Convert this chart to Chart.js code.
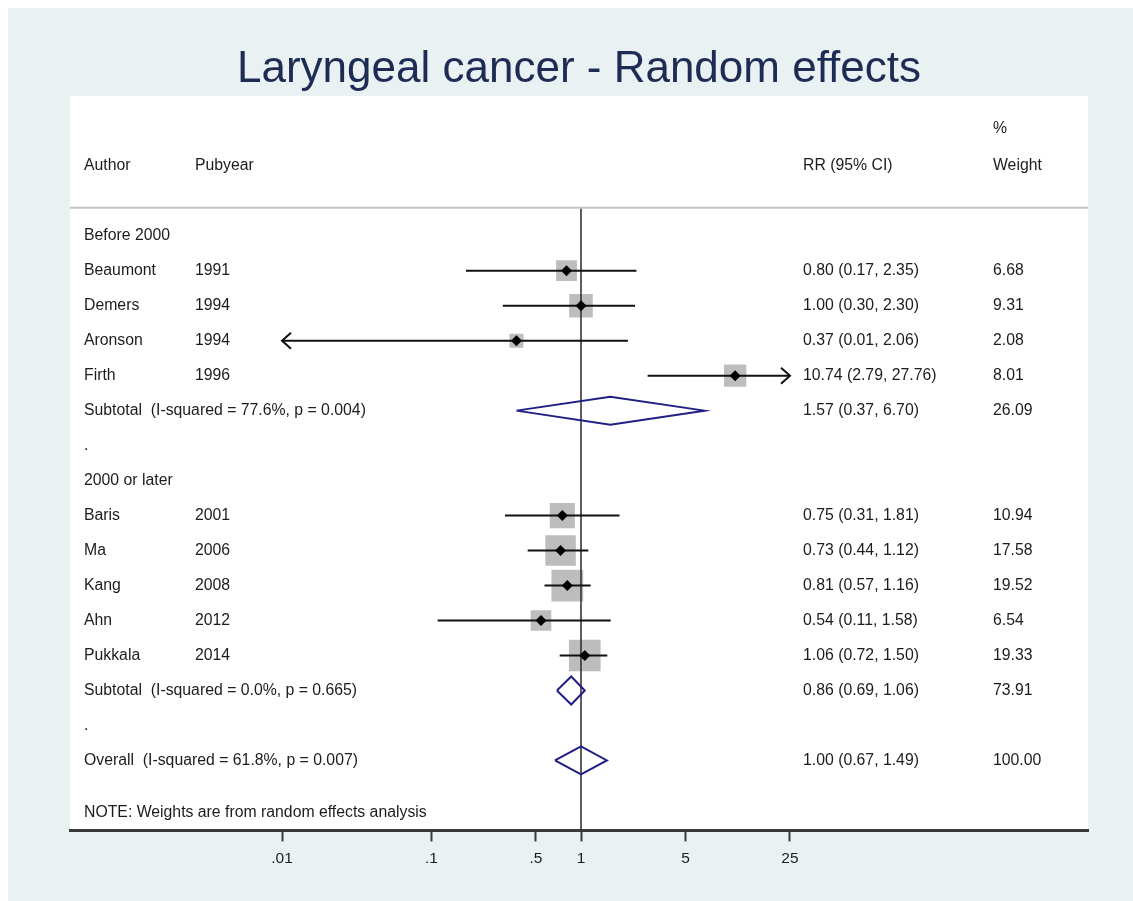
<!DOCTYPE html>
<html>
<head>
<meta charset="utf-8">
<title>Laryngeal cancer - Random effects</title>
<script src="https://cdn.jsdelivr.net/npm/chart.js@4.4.1/dist/chart.umd.min.js"></script>
<style>
  html, body { margin: 0; padding: 0; background: #fff; }
  canvas { display: block; }
</style>
</head>
<body>
<canvas id="grafica" width="1133" height="901"></canvas>
<script>
var chart;

// studies
var authors = ['Beaumont', 'Demers', 'Aronson', 'Firth', 'Baris', 'Ma', 'Kang', 'Ahn', 'Pukkala'];
var years = [1991, 1994, 1994, 1996, 2001, 2006, 2008, 2012, 2014];
var rr = [0.80, 1.00, 0.37, 10.74, 0.75, 0.73, 0.81, 0.54, 1.06];
var rrLo = [0.17, 0.30, 0.01, 2.79, 0.31, 0.44, 0.57, 0.11, 0.72];
var rrHi = [2.35, 2.30, 2.06, 27.76, 1.81, 1.12, 1.16, 1.58, 1.50];
var weights = [6.68, 9.31, 2.08, 8.01, 10.94, 17.58, 19.52, 6.54, 19.33];
var studyRows = [1, 2, 3, 4, 8, 9, 10, 11, 12];

// subgroups and overall
var groupNames = ['Before 2000', '2000 or later'];
var groupRows = [0, 7];
var pooledNames = ['Subtotal', 'Subtotal', 'Overall'];
var pooledIsq = [77.6, 0.0, 61.8];
var pooledP = [0.004, 0.665, 0.007];
var pooledRr = [1.57, 0.86, 1.00];
var pooledLo = [0.37, 0.69, 0.67];
var pooledHi = [6.70, 1.06, 1.49];
var pooledWeights = [26.09, 73.91, 100.00];
var pooledRows = [5, 13, 15];
var dotRows = [6, 14];

// x axis
var tickValues = [0.01, 0.1, 0.5, 1, 5, 25];
var tickLabels = ['.01', '.1', '.5', '1', '5', '25'];

var fontFamily = '"Liberation Sans", Arial, sans-serif';
var textFont = '15.8px ' + fontFamily;
var textColor = '#1c1c1c';
var xMin = tickValues[0];
var xMax = tickValues[tickValues.length - 1];

function ciText(a, b, c)
{
  return a.toFixed(2) + ' (' + b.toFixed(2) + ', ' + c.toFixed(2) + ')';
}

function boxRadius(w)
{
  // rect side grows with sqrt of the weight
  return (6.0 * Math.sqrt(w) + 5.3) / Math.SQRT2;
}

function armarDatasets()
{
  var sets = [];

  // estimate markers on top
  sets.push({
    type: 'scatter',
    data: rr.map(function(v, i) { return { x: v, y: studyRows[i] }; }),
    pointStyle: 'rectRot',
    pointRadius: 5.5,
    backgroundColor: '#000',
    borderWidth: 0,
    order: 0
  });

  // confidence intervals (clipped at the axis range)
  for (var i = 0; i < rr.length; i++)
  {
    sets.push({
      type: 'line',
      data: [
        { x: Math.max(rrLo[i], xMin), y: studyRows[i] },
        { x: Math.min(rrHi[i], xMax), y: studyRows[i] }
      ],
      borderColor: '#111',
      borderWidth: 2,
      pointRadius: 0,
      order: 1
    });
  }

  // pooled diamonds
  for (var j = 0; j < pooledRr.length; j++)
  {
    var r = pooledRows[j];
    sets.push({
      type: 'line',
      data: [
        { x: pooledLo[j], y: r },
        { x: pooledRr[j], y: r - 0.4 },
        { x: pooledHi[j], y: r },
        { x: pooledRr[j], y: r + 0.4 },
        { x: pooledLo[j], y: r }
      ],
      borderColor: '#1f1f85',
      borderWidth: 2,
      pointRadius: 0,
      fill: false,
      order: 1
    });
  }

  // null line and overall line
  sets.push({
    type: 'line',
    data: [{ x: 1, y: -0.8 }, { x: 1, y: 17 }],
    borderColor: '#2a2a2a',
    borderWidth: 1.5,
    pointRadius: 0,
    order: 2
  });
  sets.push({
    type: 'line',
    data: [{ x: pooledRr[2], y: -0.8 }, { x: pooledRr[2], y: 17 }],
    borderColor: 'rgba(170,60,60,0.45)',
    borderWidth: 1,
    borderDash: [4, 4],
    pointRadius: 0,
    order: 1.5
  });

  // weight boxes
  sets.push({
    type: 'scatter',
    data: rr.map(function(v, i) { return { x: v, y: studyRows[i] }; }),
    pointStyle: 'rect',
    pointRadius: weights.map(boxRadius),
    backgroundColor: '#bdbdbd',
    borderWidth: 0,
    order: 3
  });

  return sets;
}

var forestPlugin = {
  id: 'forest',
  beforeDraw: function(c)
  {
    var ctx = c.ctx;
    var a = c.chartArea;
    ctx.save();
    ctx.fillStyle = '#fff';
    ctx.fillRect(0, 0, c.width, c.height);
    ctx.fillStyle = '#e9f1f3';
    ctx.fillRect(8, 8, c.width - 8, c.height - 8);
    ctx.fillStyle = '#fff';
    ctx.fillRect(a.left, a.top, a.right - a.left, a.bottom - a.top);
    ctx.restore();
  },
  afterDatasetsDraw: function(c)
  {
    var ctx = c.ctx;
    var a = c.chartArea;
    var xs = c.scales.x;
    var ys = c.scales.y;
    var colAuthor = a.left + 14;
    var colYear = a.left + 125;
    var colRr = a.left + 733;
    var colW = a.left + 923;

    ctx.save();

    // header separator
    var ySep = ys.getPixelForValue(-0.8);
    ctx.strokeStyle = '#c4c4c4';
    ctx.lineWidth = 2;
    ctx.beginPath();
    ctx.moveTo(a.left, ySep);
    ctx.lineTo(a.right, ySep);
    ctx.stroke();

    // arrows where the interval leaves the axis range
    ctx.strokeStyle = '#111';
    ctx.lineWidth = 2;
    for (var i = 0; i < rr.length; i++)
    {
      var y = ys.getPixelForValue(studyRows[i]);
      if (rrLo[i] <= xMin)
      {
        var x0 = xs.getPixelForValue(xMin);
        ctx.beginPath();
        ctx.moveTo(x0 + 9, y - 8);
        ctx.lineTo(x0, y);
        ctx.lineTo(x0 + 9, y + 8);
        ctx.stroke();
      }
      if (rrHi[i] >= xMax)
      {
        var x1 = xs.getPixelForValue(xMax);
        ctx.beginPath();
        ctx.moveTo(x1 - 9, y - 8);
        ctx.lineTo(x1, y);
        ctx.lineTo(x1 - 9, y + 8);
        ctx.stroke();
      }
    }

    ctx.font = textFont;
    ctx.fillStyle = textColor;
    ctx.textAlign = 'left';
    ctx.textBaseline = 'middle';

    function row(r) { return ys.getPixelForValue(r); }

    ctx.fillText('%', colW, row(-3.05));
    ctx.fillText('Author', colAuthor, row(-2));
    ctx.fillText('Pubyear', colYear, row(-2));
    ctx.fillText('RR (95% CI)', colRr, row(-2));
    ctx.fillText('Weight', colW, row(-2));

    groupNames.forEach(function(g, k) {
      ctx.fillText(g, colAuthor, row(groupRows[k]));
    });

    authors.forEach(function(name, k) {
      var yy = row(studyRows[k]);
      ctx.fillText(name, colAuthor, yy);
      ctx.fillText(String(years[k]), colYear, yy);
      ctx.fillText(ciText(rr[k], rrLo[k], rrHi[k]), colRr, yy);
      ctx.fillText(weights[k].toFixed(2), colW, yy);
    });

    pooledNames.forEach(function(name, k) {
      var yy = row(pooledRows[k]);
      ctx.fillText(name + '  (I-squared = ' + pooledIsq[k].toFixed(1) + '%, p = ' + pooledP[k].toFixed(3) + ')', colAuthor, yy);
      ctx.fillText(ciText(pooledRr[k], pooledLo[k], pooledHi[k]), colRr, yy);
      ctx.fillText(pooledWeights[k].toFixed(2), colW, yy);
    });

    dotRows.forEach(function(r) {
      ctx.fillText('.', colAuthor, row(r));
    });

    ctx.fillText('NOTE: Weights are from random effects analysis', colAuthor, row(16.5));

    ctx.restore();
  }
};

function graficaForest()
{
  // pixel span: 1 decade = 149.5px, axis 70..1088 with 1 at 581
  var logMin = -(581 - 70) / 149.5;
  var logMax = logMin + (1088 - 70) / 149.5;

  chart = new Chart(document.getElementById('grafica'), {
    data: { datasets: armarDatasets() },
    options: {
      responsive: false,
      animation: false,
      layout: { padding: { left: 70, right: 45, top: 43, bottom: 25 } },
      plugins: {
        legend: { display: false },
        tooltip: { enabled: false },
        title: {
          display: true,
          text: 'Laryngeal cancer - Random effects',
          color: '#1e2c55',
          font: { family: fontFamily, size: 44, weight: 'normal' },
          padding: { top: 0, bottom: 0 }
        }
      },
      scales: {
        x: {
          type: 'logarithmic',
          bounds: 'data',
          min: Math.pow(10, logMin),
          max: Math.pow(10, logMax),
          afterBuildTicks: function(s) {
            s.ticks = tickValues.map(function(v) { return { value: v }; });
          },
          ticks: {
            autoSkip: false,
            maxRotation: 0,
            padding: 8,
            color: textColor,
            font: { family: fontFamily, size: 15.5 },
            callback: function(v) {
              var k = tickValues.indexOf(v);
              return k >= 0 ? tickLabels[k] : '';
            }
          },
          grid: {
            display: true,
            drawOnChartArea: false,
            drawTicks: true,
            tickLength: 11,
            tickWidth: 2,
            tickColor: '#3a3a3a'
          },
          border: { display: true, color: '#3a3a3a', width: 3 }
        },
        y: {
          type: 'linear',
          display: false,
          reverse: true,
          min: -4,
          max: 17
        }
      }
    },
    plugins: [forestPlugin]
  });
}

graficaForest();
</script>
</body>
</html>
